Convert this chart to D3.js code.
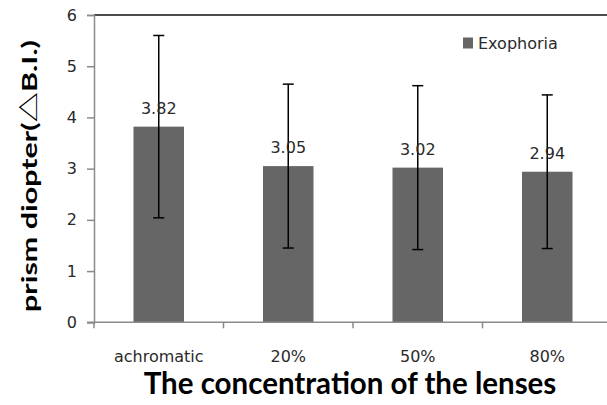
<!DOCTYPE html>
<html>
<head>
<meta charset="utf-8">
<script src="https://cdn.jsdelivr.net/npm/d3@7"></script>
<style>
  html, body { margin: 0; padding: 0; background: #fff; }
  svg { display: block; }
</style>
</head>
<body>
<svg id="chart" width="607" height="405"></svg>
<script>
// Exophoria (prism diopters, base-in) by lens tint concentration
const categories = ["achromatic", "20%", "50%", "80%"];
const means = [3.82, 3.05, 3.02, 2.94];
const errors = [1.78, 1.60, 1.60, 1.50];
const yTicks = [0, 1, 2, 3, 4, 5, 6];
const seriesName = "Exophoria";

const W = 607, H = 405;
const margin = { left: 94, right: -5, top: 15, bottom: 82 };

const svg = d3.select("#chart");
const font = "'DejaVu Sans', sans-serif";
const titleFont = "Lato, 'Noto Sans CJK SC', sans-serif";
const textColor = "#2a2a2a";

const x = d3.scaleBand()
  .domain(categories)
  .range([margin.left, W - margin.right])
  .paddingInner(0.61)
  .paddingOuter(0.305);

const y = d3.scaleLinear()
  .domain([0, 6])
  .range([H - margin.bottom - 0.7, margin.top]);

const axisColor = "#8a8a8a";

// bars
svg.append("g").selectAll("rect")
  .data(categories)
  .join("rect")
  .attr("x", d => x(d))
  .attr("width", x.bandwidth())
  .attr("y", (d, i) => y(means[i]))
  .attr("height", (d, i) => y(0) - y(means[i]))
  .attr("fill", "#666666");

// top border at the axis maximum
svg.append("line")
  .attr("x1", margin.left).attr("x2", W)
  .attr("y1", y(6)).attr("y2", y(6))
  .attr("stroke", "#111").attr("stroke-width", 1.5);

// y axis
const yAxis = d3.axisLeft(y).tickValues(yTicks).tickSize(7).tickPadding(10).tickFormat(d3.format("d"));
const gy = svg.append("g").attr("transform", `translate(${margin.left},0)`).call(yAxis);
gy.select(".domain").attr("stroke", axisColor).attr("stroke-width", 1.5);
gy.selectAll(".tick line").attr("stroke", axisColor).attr("stroke-width", 1.5);
gy.selectAll(".tick text").attr("font-family", font).attr("font-size", 16).attr("fill", textColor);

// x axis: ticks at band boundaries
const xAxisY = y(0);
svg.append("line")
  .attr("x1", margin.left - 7).attr("x2", W)
  .attr("y1", xAxisY).attr("y2", xAxisY)
  .attr("stroke", axisColor).attr("stroke-width", 1.5);
const step = x.step();
svg.append("g").selectAll("line")
  .data(d3.range(0, categories.length + 1))
  .join("line")
  .attr("x1", i => margin.left + i * step)
  .attr("x2", i => margin.left + i * step)
  .attr("y1", xAxisY).attr("y2", xAxisY + 6)
  .attr("stroke", axisColor).attr("stroke-width", 1.5);

svg.append("g").selectAll("text")
  .data(categories)
  .join("text")
  .attr("x", d => x(d) + x.bandwidth() / 2)
  .attr("y", xAxisY + 40)
  .attr("text-anchor", "middle")
  .attr("font-family", font).attr("font-size", 16).attr("fill", textColor)
  .text(d => d);

// error bars
const eb = svg.append("g").attr("stroke", "#000").attr("stroke-width", 1.5);
categories.forEach((c, i) => {
  const cx = x(c) + x.bandwidth() / 2;
  const top = y(means[i] + errors[i]);
  const bot = y(means[i] - errors[i]);
  eb.append("line").attr("x1", cx).attr("x2", cx).attr("y1", top).attr("y2", bot);
  eb.append("line").attr("x1", cx - 5.5).attr("x2", cx + 5.5).attr("y1", top).attr("y2", top);
  eb.append("line").attr("x1", cx - 5.5).attr("x2", cx + 5.5).attr("y1", bot).attr("y2", bot);
});

// value labels
svg.append("g").selectAll("text")
  .data(categories)
  .join("text")
  .attr("x", d => x(d) + x.bandwidth() / 2)
  .attr("y", (d, i) => y(means[i]) - 13)
  .attr("text-anchor", "middle")
  .attr("font-family", font).attr("font-size", 16).attr("fill", textColor)
  .text((d, i) => means[i].toFixed(2));

// legend
const lg = svg.append("g").attr("transform", "translate(463,37.5)");
lg.append("rect").attr("width", 10).attr("height", 11).attr("fill", "#666666");
lg.append("text").attr("x", 15).attr("y", 11.8)
  .attr("font-family", font).attr("font-size", 16).attr("fill", textColor)
  .text(seriesName);

// axis titles
svg.append("text")
  .attr("x", 350).attr("y", 394)
  .attr("text-anchor", "middle")
  .attr("font-family", titleFont).attr("font-weight", "bold").attr("font-size", 29.5).attr("fill", "#000")
  .text("The concentration of the lenses");

svg.append("text")
  .attr("transform", "translate(37,176) rotate(-90)")
  .attr("text-anchor", "middle")
  .attr("font-family", titleFont).attr("font-weight", "bold").attr("font-size", 21.5).attr("fill", "#000")
  .attr("textLength", 272).attr("lengthAdjust", "spacingAndGlyphs")
  .text("prism diopter(△B.I.)");
</script>
</body>
</html>
